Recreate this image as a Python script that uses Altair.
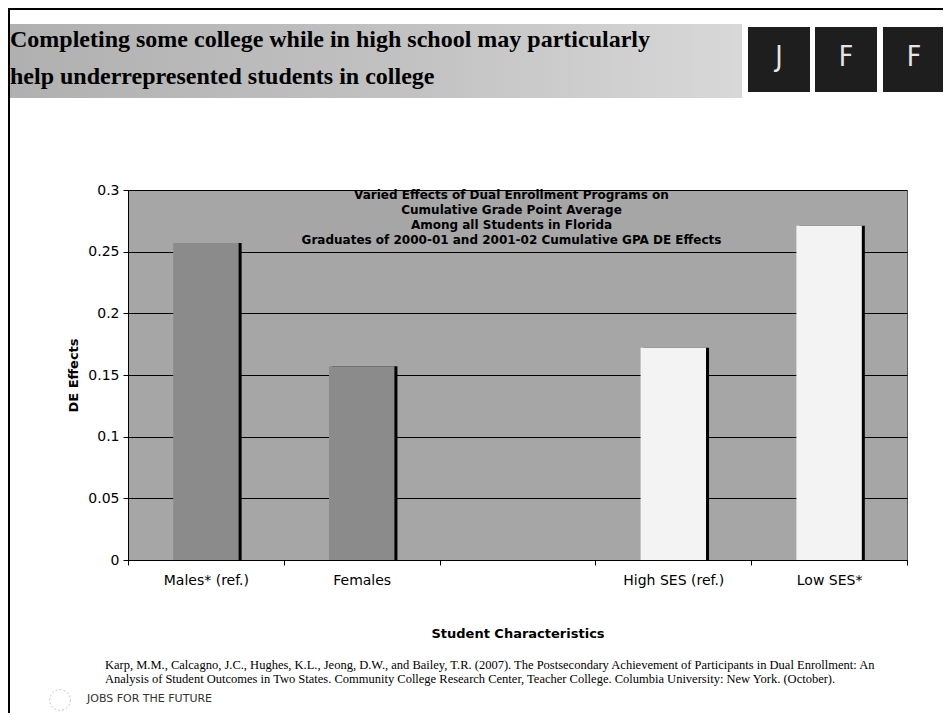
import altair as alt
import pandas as pd

# ---------------- data ----------------
categories = ["Males* (ref.)", "Females", " ", "High SES (ref.)", "Low SES*"]
bar_categories = ["Males* (ref.)", "Females", "High SES (ref.)", "Low SES*"]
de_effects = [0.257, 0.157, 0.172, 0.271]
bar_groups = ["gender", "gender", "ses", "ses"]
y_ticks = [0, 0.05, 0.1, 0.15, 0.2, 0.25, 0.3]

headline = [
    "Completing some college while in high school may particularly",
    "help underrepresented students in college",
]
chart_title_lines = [
    "Varied Effects of Dual Enrollment Programs on",
    "Cumulative Grade Point Average",
    "Among all Students in Florida",
    "Graduates of 2000-01 and 2001-02 Cumulative GPA DE Effects",
]
source_lines = [
    "Karp, M.M., Calcagno, J.C., Hughes, K.L., Jeong, D.W., and Bailey, T.R. (2007).  The Postsecondary Achievement of Participants in Dual Enrollment:  An",
    "Analysis of Student Outcomes in Two States.  Community College Research Center, Teacher College.  Columbia University: New York.  (October).",
]
logo_letters = ["J", "F", "F"]
org_name = "JOBS FOR THE FUTURE"
x_title = "Student Characteristics"
y_title = "DE Effects"

df = pd.DataFrame({"category": bar_categories, "effect": de_effects, "group": bar_groups})

W, H = 779, 370
OX, OY = 128, 190  # page position of plot origin


def px(v):
    return v - OX


def py(v):
    return v - OY


one = pd.DataFrame({"d": [0]})

x_enc = alt.X(
    "category:N",
    sort=categories,
    scale=alt.Scale(domain=categories, paddingInner=0, paddingOuter=0),
    axis=alt.Axis(
        title=x_title,
        labelAngle=0,
        tickBand="extent",
        grid=False,
        labelPadding=8,
        titlePadding=40,
    ),
)
y_enc = alt.Y(
    "effect:Q",
    scale=alt.Scale(domain=[0, 0.3], nice=False),
    axis=alt.Axis(
        title=y_title,
        values=y_ticks,
        format="~g",
        grid=True,
        titlePadding=7,
        labelPadding=4,
    ),
)

bar_w = alt.RelativeBandSize(0.42)
base = alt.Chart(df).encode(x=x_enc, y=y_enc)
shadow = base.mark_bar(color="black", xOffset=3, width=bar_w)
bars = base.mark_bar(width=bar_w).encode(
    color=alt.Color(
        "group:N",
        scale=alt.Scale(domain=["gender", "ses"], range=["#8b8b8b", "#f3f3f3"]),
        legend=None,
    )
)

layers = []

# slide frame lines
layers.append(alt.Chart(one).mark_rule(color="black", strokeWidth=2).encode(
    x=alt.value(px(8)), x2=alt.value(px(945)), y=alt.value(py(9))))
layers.append(alt.Chart(one).mark_rule(color="black", strokeWidth=2).encode(
    x=alt.value(px(9)), y=alt.value(py(9)), y2=alt.value(py(713))))

# header banner
layers.append(alt.Chart(one).mark_rect(
    color=alt.LinearGradient(
        gradient="linear", x1=0, x2=1, y1=0, y2=0,
        stops=[alt.GradientStop(offset=0, color="#b0b0b0"),
               alt.GradientStop(offset=0.55, color="#c2c2c2"),
               alt.GradientStop(offset=1, color="#d8d8d8")],
    )
).encode(x=alt.value(px(10)), x2=alt.value(px(742)), y=alt.value(py(24)), y2=alt.value(py(98))))

for i, line in enumerate(headline):
    layers.append(alt.Chart(one).mark_text(
        align="left", baseline="alphabetic", font="Liberation Serif", fontSize=24,
        fontWeight="bold", color="black",
    ).encode(x=alt.value(px(10)), y=alt.value(py(47 + i * 37)), text=alt.value(line)))

# JFF boxes
box_left = [748, 815, 883]
for i, letter in enumerate(logo_letters):
    layers.append(alt.Chart(one).mark_rect(color="#1e1e1e").encode(
        x=alt.value(px(box_left[i])), x2=alt.value(px(box_left[i] + 62)),
        y=alt.value(py(27)), y2=alt.value(py(92))))
    layers.append(alt.Chart(one).mark_text(
        align="center", baseline="middle", font="DejaVu Sans Condensed", fontSize=28,
        color="#e6e6e6").encode(
        x=alt.value(px(box_left[i] + 31)), y=alt.value(py(58)), text=alt.value(letter)))

# chart title inside plot
for i, line in enumerate(chart_title_lines):
    layers.append(alt.Chart(one).mark_text(
        align="center", baseline="middle", font="DejaVu Sans", fontSize=12,
        fontWeight="bold", color="black").encode(
        x=alt.value(W / 2 - 6), y=alt.value(5 + i * 15), text=alt.value(line)))

# source lines
for i, line in enumerate(source_lines):
    layers.append(alt.Chart(one).mark_text(
        align="left", baseline="middle", font="Liberation Serif", fontSize=12.5,
        color="black").encode(
        x=alt.value(px(105)), y=alt.value(py(665 + i * 14)), text=alt.value(line)))

# logo
layers.append(alt.Chart(one).mark_point(shape="circle", size=430, color="#aaaaaa",
                                         strokeWidth=1, strokeDash=[2, 2]).encode(
    x=alt.value(px(60)), y=alt.value(py(700))))
layers.append(alt.Chart(one).mark_text(
    align="left", baseline="middle", font="DejaVu Sans", fontSize=11,
    color="#333333").encode(
    x=alt.value(px(87)), y=alt.value(py(699)), text=alt.value(org_name)))

chart = alt.layer(shadow, bars, *layers).properties(
    width=W,
    height=H,
    autosize=alt.AutoSizeParams(type="none"),
    padding={"left": 120, "top": 182, "right": 36, "bottom": 153},
).configure(
    background="white",
).configure_view(
    fill="#a6a6a6", stroke="#555555", strokeWidth=1,
).configure_axis(
    labelFont="DejaVu Sans", labelFontSize=14, labelColor="black",
    titleFont="DejaVu Sans", titleFontSize=13, titleFontWeight="bold", titleColor="black",
    domainColor="black", tickColor="black", tickSize=5,
    gridColor="black", gridOpacity=1, gridWidth=1,
)

chart.save("out.html", embed_options={"renderer": "svg", "actions": False})
